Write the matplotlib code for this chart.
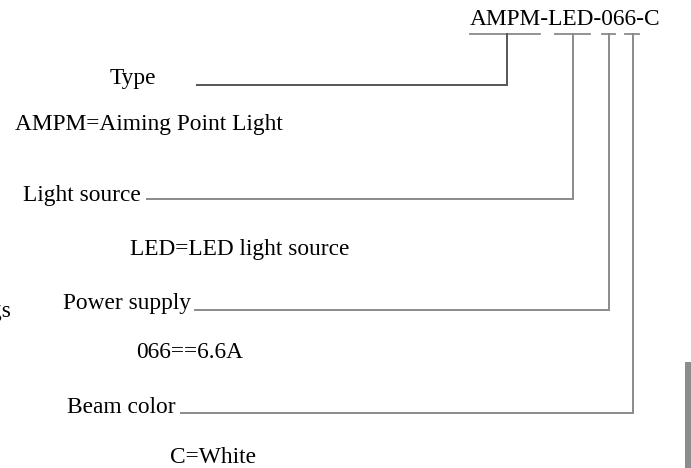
import matplotlib.pyplot as plt

# code string and the parts it decodes to
code = "AMPM-LED-066-C"
field_names = ["Type", "Light source", "Power supply", "Beam color"]
field_values = ["AMPM=Aiming Point Light", "LED=LED light source", "066==6.6A", "C=White"]

# layout in pixel coords (y downwards)
W, H = 691, 468
name_xy = [(110, 84), (23, 201), (63, 309), (67, 413)]
value_xy = [(15, 130), (130, 255), (136, 358), (170, 463)]
line_y = [85, 199, 310, 413]
line_x0 = [197, 147, 195, 181]
tick_x = [507, 573, 609, 633]
underline = [(470, 540), (555, 590), (602, 615), (625, 639)]
under_y = 34

plt.rcParams['font.family'] = ['Liberation Serif', 'DejaVu Serif']
fig = plt.figure(figsize=(W / 100, H / 100), dpi=100)
ax = fig.add_axes([0, 0, 1, 1])
ax.set_xlim(0, W)
ax.set_ylim(H, 0)
ax.axis('off')

fs = 16.8
gray = '#8a8a8a'

ax.text(470, 25, code, fontsize=fs, va='baseline', ha='left')
for x0, x1 in underline:
    ax.plot([x0, x1], [under_y, under_y], color=gray, lw=1.3)

for i in range(len(field_names)):
    nx, ny = name_xy[i]
    ax.text(nx, ny, field_names[i], fontsize=fs, va='baseline', ha='left')
    vx, vy = value_xy[i]
    ax.text(vx, vy, field_values[i], fontsize=fs, va='baseline', ha='left')
    c = '#555555' if i == 0 else gray
    ax.plot([line_x0[i], tick_x[i], tick_x[i]], [line_y[i], line_y[i], under_y],
            color=c, lw=1.4, solid_joinstyle='miter')

# text cut off at the left edge (as in the source) and grey bar at right edge
ax.text(11, 317, "gs", fontsize=fs, va='baseline', ha='right')
ax.add_patch(plt.Rectangle((685, 362), 8, 110, color='#8c8c8c', lw=0))

fig.savefig('out.png', dpi=100)
